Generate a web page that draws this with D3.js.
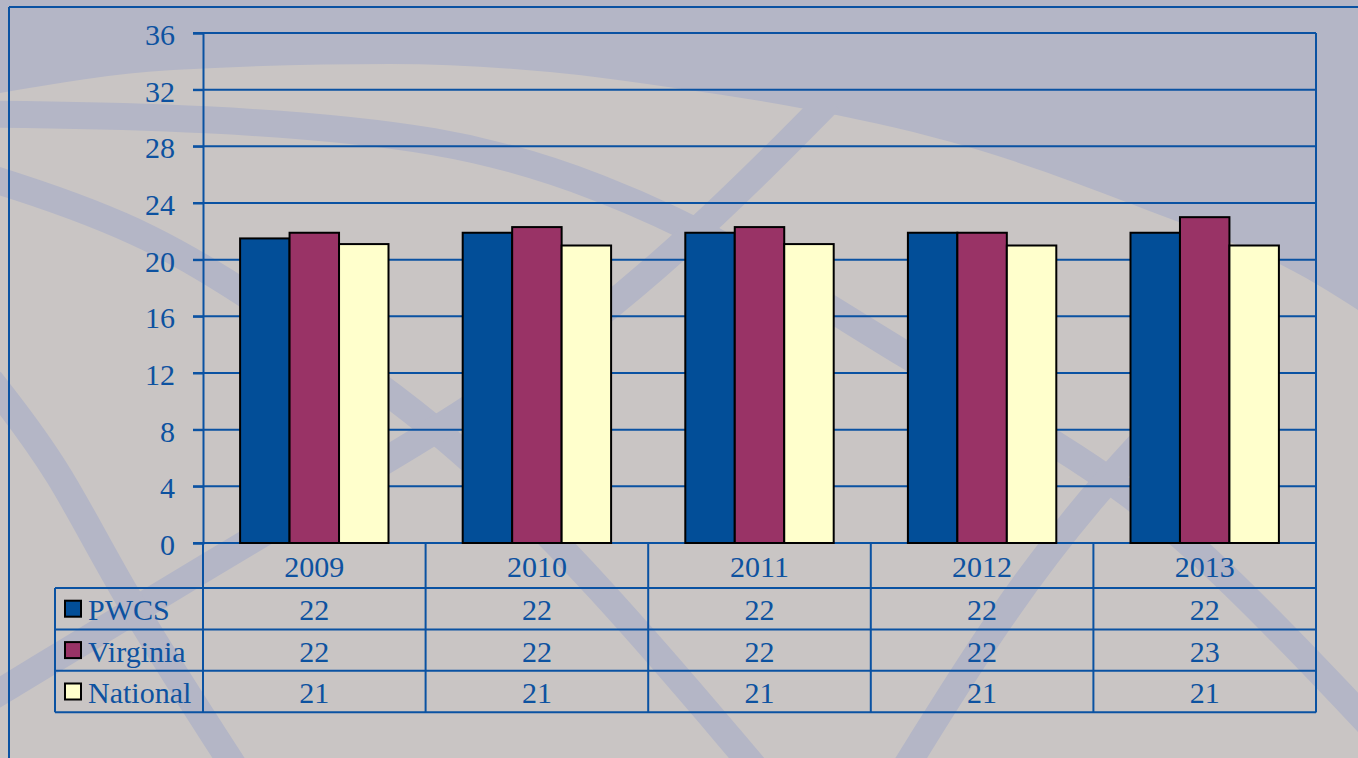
<!DOCTYPE html>
<html>
<head>
<meta charset="utf-8">
<script src="https://cdn.jsdelivr.net/npm/d3@7"></script>
<style>
  html, body { margin: 0; padding: 0; background: #c9c5c4; }
  svg { display: block; }
</style>
</head>
<body>
<script>
// ---------- data ----------
const years = ["2009", "2010", "2011", "2012", "2013"];
const seriesNames = ["PWCS", "Virginia", "National"];
const pwcs = [21.5, 21.9, 21.9, 21.9, 21.9];
const virginia = [21.9, 22.3, 22.3, 21.9, 23.0];
const national = [21.1, 21.0, 21.1, 21.0, 21.0];
const seriesColors = ["#024e98", "#993366", "#ffffcc"];
const yTicks = [0, 4, 8, 12, 16, 20, 24, 28, 32, 36];

const series = [pwcs, virginia, national];

// ---------- layout ----------
const W = 1358, H = 758;
const plot = { left: 203, right: 1316, top: 33, bottom: 543 };
const tableLeft = 55;
const headerBottom = 588;
const rowH = 41.4;
const lineBlue = "#0a52a2";
const textBlue = "#0d52a0";
const font = "'Liberation Serif', 'Times New Roman', serif";
const fontSize = 30;

const svg = d3.select("body").append("svg").attr("width", W).attr("height", H);

// ---------- decorative background ----------
const light = "#c9c5c4", bluish = "#b4b6c6";
svg.append("rect").attr("width", W).attr("height", H).attr("fill", light);

const topBoundary = [[0, 93], [173, 70], [390, 64], [550, 72], [675, 88], [800, 108], [951, 142], [1134, 205], [1318, 285], [1358, 310]];
svg.append("path")
  .attr("d", d3.area().x(d => d[0]).y0(0).y1(d => d[1]).curve(d3.curveMonotoneX)(topBoundary))
  .attr("fill", bluish);

const bands = [
  [[-10, 114], [200, 117], [450, 137], [600, 185], [740, 250], [906, 357], [1061, 445], [1190, 535], [1370, 725]],
  [[-10, 178], [150, 230], [300, 330], [447, 432], [600, 585], [755, 768]],
  [[830, 100], [682, 250], [500, 395], [300, 510], [-10, 698]],
  [[-10, 380], [60, 470], [120, 590], [235, 768]],
  [[905, 768], [1000, 615], [1100, 483], [1250, 330]]
];
const bandLine = d3.line().curve(d3.curveBasis);
svg.append("g").selectAll("path").data(bands).join("path")
  .attr("d", d => bandLine(d))
  .attr("fill", "none")
  .attr("stroke", bluish)
  .attr("stroke-width", 27);

// outer frame (top and left edges)
svg.append("line").attr("x1", 9).attr("y1", 7).attr("x2", W).attr("y2", 7)
  .attr("stroke", lineBlue).attr("stroke-width", 2);
svg.append("line").attr("x1", 9).attr("y1", 7).attr("x2", 9).attr("y2", H)
  .attr("stroke", lineBlue).attr("stroke-width", 2);

// ---------- scales ----------
const y = d3.scaleLinear().domain([0, 36]).range([plot.bottom, plot.top]);
const x0 = d3.scaleBand().domain(years).range([plot.left, plot.right]).padding(0);
const x1 = d3.scaleBand().domain(seriesNames).range([0, x0.bandwidth()])
  .paddingInner(0).paddingOuter(0.75);

// gridlines
svg.append("g").selectAll("line").data(yTicks).join("line")
  .attr("x1", plot.left - 10).attr("x2", plot.right)
  .attr("y1", d => y(d)).attr("y2", d => y(d))
  .attr("stroke", lineBlue).attr("stroke-width", 2);

// y axis with labels
const yAxis = svg.append("g")
  .attr("transform", `translate(${plot.left},0)`)
  .call(d3.axisLeft(y).tickValues(yTicks).tickSize(10).tickPadding(18).tickFormat(d3.format("d")));
yAxis.select(".domain").attr("stroke", lineBlue).attr("stroke-width", 2);
yAxis.selectAll(".tick line").attr("stroke", lineBlue).attr("stroke-width", 2);
yAxis.selectAll(".tick text")
  .attr("fill", textBlue).attr("dy", "0.38em")
  .style("font-family", font).style("font-size", fontSize + "px");

// right border of plot area
svg.append("line").attr("x1", plot.right).attr("x2", plot.right)
  .attr("y1", plot.top).attr("y2", headerBottom + 3 * rowH)
  .attr("stroke", lineBlue).attr("stroke-width", 2);

// ---------- bars ----------
const groups = svg.append("g").selectAll("g").data(years).join("g")
  .attr("transform", d => `translate(${x0(d)},0)`);
groups.selectAll("rect")
  .data((yr, i) => seriesNames.map((s, k) => ({ s, k, v: series[k][i] })))
  .join("rect")
  .attr("x", d => x1(d.s))
  .attr("width", x1.bandwidth())
  .attr("y", d => y(d.v))
  .attr("height", d => y(0) - y(d.v))
  .attr("fill", d => seriesColors[d.k])
  .attr("stroke", "#000")
  .attr("stroke-width", 2);

// ---------- data table ----------
const tableBottom = headerBottom + 3 * rowH;
const tbl = svg.append("g");
const hLines = [0, 1, 2, 3].map(i => headerBottom + i * rowH);
tbl.selectAll("line.h").data(hLines).join("line").attr("class", "h")
  .attr("x1", tableLeft).attr("x2", plot.right)
  .attr("y1", d => d).attr("y2", d => d)
  .attr("stroke", lineBlue).attr("stroke-width", 2);
const vLines = years.map(yr => x0(yr)).concat([plot.right]);
tbl.selectAll("line.v").data(vLines).join("line").attr("class", "v")
  .attr("x1", d => d).attr("x2", d => d)
  .attr("y1", plot.bottom).attr("y2", tableBottom)
  .attr("stroke", lineBlue).attr("stroke-width", 2);
tbl.append("line")
  .attr("x1", tableLeft).attr("x2", tableLeft)
  .attr("y1", headerBottom).attr("y2", tableBottom)
  .attr("stroke", lineBlue).attr("stroke-width", 2);

// header (category labels)
tbl.selectAll("text.yr").data(years).join("text").attr("class", "yr")
  .attr("x", d => x0(d) + x0.bandwidth() / 2)
  .attr("y", (plot.bottom + headerBottom) / 2 + 1)
  .attr("dy", "0.35em")
  .attr("text-anchor", "middle")
  .attr("fill", textBlue)
  .style("font-family", font).style("font-size", fontSize + "px")
  .text(d => d);

// rows
const fmt = d3.format(".0f");
seriesNames.forEach((name, k) => {
  const cy = headerBottom + k * rowH + rowH / 2;
  tbl.append("rect")
    .attr("x", 65).attr("y", cy - 8).attr("width", 16).attr("height", 16)
    .attr("fill", seriesColors[k]).attr("stroke", "#000").attr("stroke-width", 2);
  tbl.append("text")
    .attr("x", 88).attr("y", cy + 1).attr("dy", "0.35em")
    .attr("fill", textBlue)
    .style("font-family", font).style("font-size", fontSize + "px")
    .text(name);
  tbl.selectAll(null).data(series[k]).join("text")
    .attr("x", (d, i) => x0(years[i]) + x0.bandwidth() / 2)
    .attr("y", cy + 1).attr("dy", "0.35em")
    .attr("text-anchor", "middle")
    .attr("fill", textBlue)
    .style("font-family", font).style("font-size", fontSize + "px")
    .text(d => fmt(d));
});
</script>
</body>
</html>
